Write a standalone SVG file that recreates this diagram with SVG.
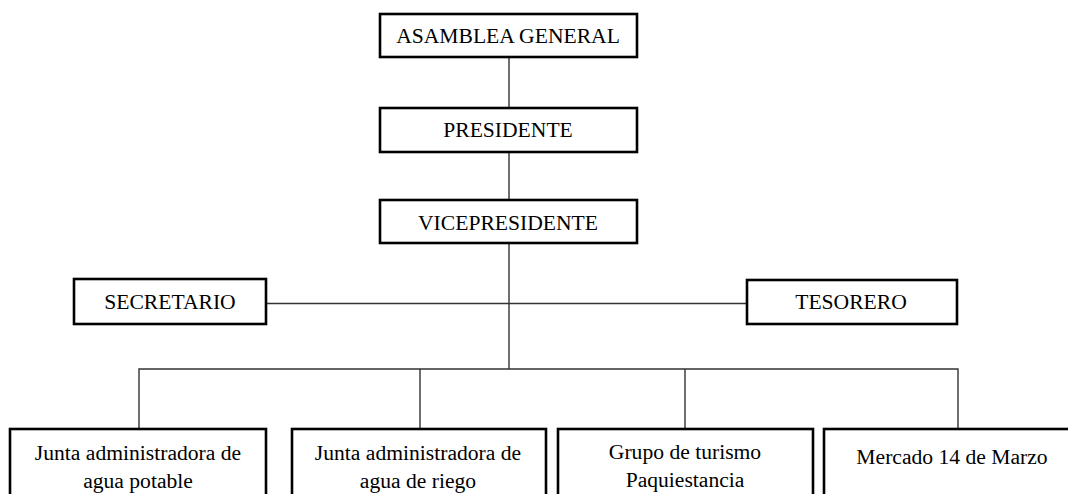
<svg xmlns="http://www.w3.org/2000/svg" width="1068" height="494" viewBox="0 0 1068 494">
<style>
.box{fill:#fff;stroke:#000;stroke-width:2.6}
.t{font-family:"Liberation Serif","Times New Roman",serif;font-size:21.6px;fill:#000;text-anchor:middle}
.c{fill:none;stroke:#333;stroke-width:1.4}
</style>
<rect width="1068" height="494" fill="#fff"/>
<g id="connectors">
<line class="c" x1="509" y1="57" x2="509" y2="108"/>
<line class="c" x1="509" y1="152" x2="509" y2="200"/>
<line class="c" x1="509" y1="243" x2="509" y2="369"/>
<line class="c" x1="266" y1="303.5" x2="747" y2="303.5"/>
<polyline class="c" points="139,429 139,369 958,369 958,429"/>
<line class="c" x1="420" y1="369" x2="420" y2="429"/>
<line class="c" x1="685" y1="369" x2="685" y2="429"/>
</g>
<g id="asamblea"><rect class="box" x="380" y="14" width="257" height="43"/><text class="t" x="508" y="43">ASAMBLEA GENERAL</text></g>
<g id="presidente"><rect class="box" x="380" y="108" width="257" height="44"/><text class="t" x="508" y="137">PRESIDENTE</text></g>
<g id="vicepresidente"><rect class="box" x="380" y="200" width="257" height="43"/><text class="t" x="508" y="230">VICEPRESIDENTE</text></g>
<g id="secretario"><rect class="box" x="74" y="279" width="192" height="45"/><text class="t" x="170" y="309">SECRETARIO</text></g>
<g id="tesorero"><rect class="box" x="747" y="280" width="210" height="44"/><text class="t" x="851" y="309">TESORERO</text></g>
<g id="agua-potable"><rect class="box" x="10" y="429" width="256" height="80"/><text class="t" x="138" y="460">Junta administradora de</text><text class="t" x="138" y="488">agua potable</text></g>
<g id="agua-riego"><rect class="box" x="292" y="429" width="254" height="80"/><text class="t" x="418" y="460">Junta administradora de</text><text class="t" x="418" y="488">agua de riego</text></g>
<g id="turismo"><rect class="box" x="558" y="429" width="255" height="80"/><text class="t" x="685" y="459">Grupo de turismo</text><text class="t" x="685" y="487">Paquiestancia</text></g>
<g id="mercado"><rect class="box" x="824" y="429" width="260" height="80"/><text class="t" x="952" y="464">Mercado 14 de Marzo</text></g>
</svg>
